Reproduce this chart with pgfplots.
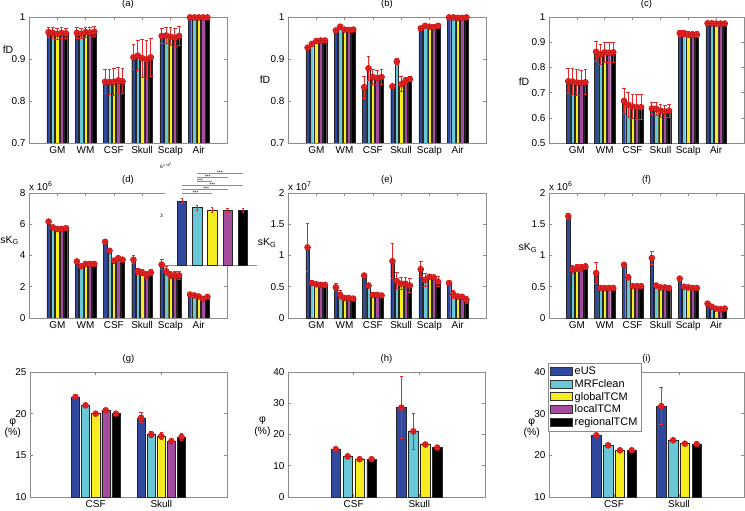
\documentclass[border=0pt]{standalone}
\usepackage{pgfplots}
\pgfplotsset{compat=1.18}
\usepackage{pgfplotstable}
\usepackage{fontspec}
\setmainfont{Liberation Sans}

\definecolor{cA}{RGB}{48,72,158}
\definecolor{cB}{RGB}{104,200,216}
\definecolor{cC}{RGB}{246,236,32}
\definecolor{cD}{RGB}{166,76,158}
\definecolor{cE}{RGB}{0,0,0}
\definecolor{cR}{RGB}{232,40,40}
\definecolor{cRD}{RGB}{195,20,20}
\definecolor{cF}{RGB}{140,140,140}

% ---------------- data ----------------
\pgfplotstableread{
x a b c d e ea eb ec ed ee
1 0.964 0.962 0.960 0.962 0.961 0.012 0.013 0.013 0.013 0.012
2 0.962 0.960 0.964 0.963 0.965 0.012 0.012 0.012 0.012 0.012
3 0.846 0.845 0.846 0.849 0.847 0.028 0.030 0.032 0.030 0.030
4 0.904 0.908 0.902 0.899 0.904 0.030 0.035 0.045 0.045 0.045
5 0.955 0.956 0.953 0.951 0.955 0.018 0.020 0.022 0.022 0.022
6 0.999 0.999 0.999 0.999 0.999 0.002 0.002 0.002 0.002 0.002
}\tA
\pgfplotstableread{
x a b c d e ea eb ec ed ee
1 0.927 0.936 0.943 0.944 0.944 0.003 0.003 0.003 0.003 0.003
2 0.968 0.977 0.970 0.969 0.970 0.003 0.003 0.003 0.003 0.003
3 0.833 0.878 0.857 0.855 0.857 0.026 0.028 0.018 0.018 0.018
4 0.835 0.894 0.840 0.848 0.852 0.005 0.007 0.018 0.008 0.006
5 0.973 0.979 0.977 0.976 0.979 0.004 0.004 0.004 0.004 0.004
6 0.999 0.999 0.998 0.998 0.999 0.001 0.001 0.001 0.001 0.001
}\tB
\pgfplotstableread{
x a b c d e ea eb ec ed ee
1 0.745 0.744 0.740 0.739 0.741 0.050 0.050 0.050 0.050 0.050
2 0.862 0.852 0.860 0.858 0.860 0.040 0.040 0.040 0.040 0.040
3 0.667 0.652 0.645 0.642 0.642 0.048 0.050 0.048 0.050 0.050
4 0.637 0.636 0.628 0.625 0.628 0.025 0.025 0.025 0.025 0.025
5 0.936 0.933 0.932 0.930 0.930 0.012 0.012 0.012 0.012 0.012
6 0.975 0.975 0.974 0.974 0.974 0.005 0.005 0.005 0.005 0.005
}\tC
% sKG, x 10^6
\pgfplotstableread{
x a b c d e ea eb ec ed ee
1 6.17 5.80 5.70 5.70 5.75 0.15 0.12 0.12 0.12 0.12
2 3.62 3.31 3.46 3.46 3.46 0.12 0.10 0.10 0.10 0.10
3 4.88 4.30 3.67 3.83 3.73 0.10 0.10 0.10 0.10 0.10
4 3.73 3.00 2.90 2.75 2.90 0.25 0.20 0.20 0.20 0.20
5 3.42 3.00 2.75 2.75 2.73 0.30 0.30 0.25 0.25 0.25
6 1.50 1.44 1.38 1.23 1.35 0.10 0.10 0.10 0.10 0.10
}\tD
% sKG, x 10^7
\pgfplotstableread{
x a b c d e ea eb ec ed ee
1 1.13 0.56 0.54 0.53 0.53 0.38 0.02 0.02 0.02 0.02
2 0.49 0.37 0.32 0.32 0.31 0.07 0.07 0.02 0.02 0.02
3 0.68 0.52 0.37 0.37 0.36 0.03 0.02 0.02 0.02 0.02
4 0.91 0.59 0.55 0.55 0.52 0.28 0.14 0.10 0.10 0.11
5 0.78 0.61 0.66 0.65 0.58 0.12 0.10 0.02 0.02 0.08
6 0.56 0.38 0.345 0.34 0.29 0.02 0.06 0.03 0.03 0.05
}\tE
% sKG, x 10^6
\pgfplotstableread{
x a b c d e ea eb ec ed ee
1 1.63 0.78 0.80 0.80 0.82 0.05 0.06 0.05 0.05 0.05
2 0.72 0.48 0.48 0.48 0.48 0.17 0.02 0.02 0.02 0.02
3 0.85 0.65 0.51 0.51 0.51 0.03 0.04 0.02 0.02 0.02
4 0.96 0.52 0.49 0.49 0.48 0.10 0.03 0.02 0.02 0.02
5 0.63 0.50 0.49 0.48 0.48 0.02 0.02 0.02 0.02 0.02
6 0.23 0.18 0.15 0.14 0.15 0.01 0.02 0.01 0.01 0.01
}\tF
\pgfplotstableread{
x a b c d e ea eb ec ed ee
1 22.0 21.0 20.0 20.4 20.0 0.15 0.15 0.15 0.15 0.15
2 19.5 17.5 17.3 16.7 17.2 0.60 0.40 0.40 0.20 0.40
}\tG
\pgfplotstableread{
x a b c e ea eb ec ee
1 15.3 13.0 12.1 12.1 0.4 0.4 0.4 0.4
2 28.6 21.0 16.8 15.8 10.0 5.7 0.4 0.4
}\tH
\pgfplotstableread{
x a b c e ea eb ec ee
1 24.8 22.4 21.2 21.2 0.2 0.2 0.2 0.2
2 31.8 23.6 22.8 22.7 4.4 0.3 0.2 0.2
}\tI

\pgfplotsset{
  panel/.style={scale only axis, width=198bp, height=125bp,
    axis line style={cF, line width=0.6bp},
    every tick/.style={cF, line width=0.6bp}, major tick length=3bp,
    tick label style={font=\fontsize{10}{12}\selectfont},
    /pgf/number format/assume math mode=true,
    ylabel style={rotate=-90, font=\fontsize{10.5}{12}\selectfont, align=center, anchor=center},
    title style={font=\fontsize{9.5}{11}\selectfont, inner sep=2.5bp},
    scaled ticks=false, anchor=north west, clip mode=individual},
  six/.style={xmin=0, xmax=7, xtick={1,...,6}, xticklabels={GM,WM,CSF,Skull,Scalp,Air}},
  two/.style={xmin=0, xmax=3, xtick={1,2}, xticklabels={CSF,Skull}},
  mybar/.style={ybar, draw=black!85, line width=0.35bp, forget plot},
  err/.style={forget plot, only marks, mark=oplus*, mark size=3bp,
    mark options={fill=cR, draw=cRD, line width=0.5bp},
    /pgfplots/error bars/y dir=both, /pgfplots/error bars/y explicit,
    /pgfplots/error bars/error bar style={cR, line width=1bp},
    /pgfplots/error bars/error mark options={rotate=90, cR, mark size=1.8bp, line width=1bp}},
}

\newcommand\five[1]{%
  \addplot[mybar, fill=cA, bar width=0.123, bar shift=-0.3077] table[x=x,y=a]{#1};
  \addplot[mybar, fill=cB, bar width=0.123, bar shift=-0.1538] table[x=x,y=b]{#1};
  \addplot[mybar, fill=cC, bar width=0.123, bar shift=0] table[x=x,y=c]{#1};
  \addplot[mybar, fill=cD, bar width=0.123, bar shift=0.1538] table[x=x,y=d]{#1};
  \addplot[mybar, fill=cE, bar width=0.123, bar shift=0.3077] table[x=x,y=e]{#1};
  \addplot[err] table[x expr=\thisrow{x}-0.3077, y=a, y error=ea]{#1};
  \addplot[err] table[x expr=\thisrow{x}-0.1538, y=b, y error=eb]{#1};
  \addplot[err] table[x expr=\thisrow{x}, y=c, y error=ec]{#1};
  \addplot[err] table[x expr=\thisrow{x}+0.1538, y=d, y error=ed]{#1};
  \addplot[err] table[x expr=\thisrow{x}+0.3077, y=e, y error=ee]{#1};
}
\newcommand\four[1]{%
  \addplot[mybar, fill=cA, bar width=0.145, bar shift=-0.2727] table[x=x,y=a]{#1};
  \addplot[mybar, fill=cB, bar width=0.145, bar shift=-0.0909] table[x=x,y=b]{#1};
  \addplot[mybar, fill=cC, bar width=0.145, bar shift=0.0909] table[x=x,y=c]{#1};
  \addplot[mybar, fill=cE, bar width=0.145, bar shift=0.2727] table[x=x,y=e]{#1};
  \addplot[err] table[x expr=\thisrow{x}-0.2727, y=a, y error=ea]{#1};
  \addplot[err] table[x expr=\thisrow{x}-0.0909, y=b, y error=eb]{#1};
  \addplot[err] table[x expr=\thisrow{x}+0.0909, y=c, y error=ec]{#1};
  \addplot[err] table[x expr=\thisrow{x}+0.2727, y=e, y error=ee]{#1};
}
\newcommand\mult[1]{\node[anchor=south west, inner sep=0pt, yshift=2.5bp, font=\fontsize{10}{12}\selectfont] at (rel axis cs:0,1) {x 10\textsuperscript{#1}};}
\newcommand\stars[2]{\node[font=\fontsize{5}{5}\selectfont, inner sep=0pt, anchor=south] at (axis cs:#1,#2) {***};}

\begin{document}
\begin{tikzpicture}
\path[use as bounding box] (0,0) rectangle (745bp,-511bp);

% ---------------- row 1 ----------------
\begin{axis}[panel, six, height=126bp, at={(29bp,-17bp)}, ymin=0.7, ymax=1, ytick={0.7,0.8,0.9,1},
  title={(a)}, ylabel={fD}, ylabel style={at={(axis description cs:-0.106,0.74)}}]
\five{\tA}
\end{axis}
\begin{axis}[panel, six, height=126bp, at={(288bp,-17bp)}, ymin=0.7, ymax=1, ytick={0.7,0.8,0.9,1},
  title={(b)}, ylabel={fD}, ylabel style={at={(axis description cs:-0.116,0.5)}}]
\five{\tB}
\end{axis}
\begin{axis}[panel, six, height=126bp, width=195bp, at={(549bp,-17bp)}, ymin=0.5, ymax=1, ytick={0.5,0.6,0.7,0.8,0.9,1},
  title={(c)}, ylabel={fD}, ylabel style={at={(axis description cs:-0.128,0.49)}}]
\five{\tC}
\end{axis}

% ---------------- row 2 ----------------
\begin{axis}[panel, six, at={(29bp,-193bp)}, ymin=0, ymax=8, ytick={0,2,4,6,8},
  title={(d)}, ylabel={sK\textsubscript{G}}, ylabel style={at={(axis description cs:-0.098,0.62)}}]
\five{\tD}
\mult{6}
\end{axis}
% inset
\begin{axis}[scale only axis, width=91.5bp, height=98bp, at={(165bp,-265bp)}, anchor=south west,
  xmin=-0.1, xmax=5.9, ymin=0, ymax=6, axis background/.style={fill=white},
  axis x line*=bottom, axis y line*=left, x axis line style={cF, line width=0.4bp, -},
  y axis line style={draw=none}, xtick=\empty, ytick={3,6}, major tick length=0pt,
  tick label style={font=\fontsize{5}{6}\selectfont}, yticklabel style={xshift=1.5bp},
  /pgf/number format/assume math mode=true, clip=false]
\addplot[ybar, bar width=0.61, bar shift=0, fill=cA, draw=black!85, line width=0.3bp] coordinates {(1,3.94)};
\addplot[ybar, bar width=0.61, bar shift=0, fill=cB, draw=black!85, line width=0.3bp] coordinates {(2,3.52)};
\addplot[ybar, bar width=0.61, bar shift=0, fill=cC, draw=black!85, line width=0.3bp] coordinates {(3,3.37)};
\addplot[ybar, bar width=0.61, bar shift=0, fill=cD, draw=black!85, line width=0.3bp] coordinates {(4,3.35)};
\addplot[ybar, bar width=0.61, bar shift=0, fill=cE, draw=black!85, line width=0.3bp] coordinates {(5,3.35)};
\addplot[draw=none, mark=none, error bars/.cd, y dir=both, y explicit,
  error bar style={cR, line width=0.5bp}, error mark options={rotate=90, cR, mark size=1.2bp, line width=0.5bp}]
  coordinates {(1,3.94) +- (0,0.17) (2,3.52) +- (0,0.15) (3,3.37) +- (0,0.15) (4,3.35) +- (0,0.12) (5,3.35) +- (0,0.12)};
\draw[cF, line width=0.35bp] (axis cs:1,4.42) -- (axis cs:3,4.42);
\draw[cF, line width=0.35bp] (axis cs:1,4.66) -- (axis cs:4,4.66);
\draw[cF, line width=0.35bp] (axis cs:1,4.90) -- (axis cs:5,4.90);
\draw[cF, line width=0.35bp] (axis cs:2,5.15) -- (axis cs:3,5.15);
\draw[cF, line width=0.35bp] (axis cs:2,5.40) -- (axis cs:4,5.40);
\draw[cF, line width=0.35bp] (axis cs:2,5.64) -- (axis cs:5,5.64);
\stars{1.9}{4.30}
\stars{2.6}{4.54}
\stars{3.0}{4.78}
\stars{2.2}{5.03}
\stars{2.7}{5.28}
\stars{3.5}{5.52}
\node[anchor=south west, inner sep=0pt, font=\fontsize{3.5}{4}\selectfont] at (rel axis cs:-0.02,1.0) {x 10\textsuperscript{6}};
\end{axis}

\begin{axis}[panel, six, at={(288bp,-193bp)}, ymin=0, ymax=2, ytick={0,0.5,1,1.5,2},
  title={(e)}, ylabel={sK\textsubscript{G}}, ylabel style={at={(axis description cs:-0.106,0.6)}}]
\five{\tE}
\mult{7}
\end{axis}
\begin{axis}[panel, six, width=195bp, at={(549bp,-193bp)}, ymin=0, ymax=2, ytick={0,0.5,1,1.5,2},
  title={(f)}, ylabel={sK\textsubscript{G}}, ylabel style={at={(axis description cs:-0.108,0.56)}}]
\five{\tF}
\mult{6}
\end{axis}

% ---------------- row 3 ----------------
\begin{axis}[panel, two, width=197bp, at={(30bp,-372bp)}, ymin=10, ymax=25, ytick={10,15,20,25},
  title={(g)}, ylabel={φ\\(\%)}, ylabel style={at={(axis description cs:-0.088,0.55)}}]
\five{\tG}
\end{axis}
\begin{axis}[panel, two, width=197bp, at={(288bp,-372bp)}, ymin=0, ymax=40, ytick={0,10,20,30,40},
  title={(h)}, ylabel={φ\\(\%)}, ylabel style={at={(axis description cs:-0.13,0.56)}}]
\four{\tH}
\end{axis}
\begin{axis}[panel, two, width=195bp, at={(549bp,-372bp)}, ymin=10, ymax=40, ytick={10,20,30,40},
  title={(i)}, ylabel={φ\\(\%)}, ylabel style={at={(axis description cs:-0.088,0.55)}},
  legend cell align=left,
  legend style={at={(-0.005,1.072)}, anchor=north west, draw=cF, line width=0.6bp,
    font=\fontsize{11}{12.5}\selectfont, inner sep=2bp, row sep=-0.8bp},
  legend image code/.code={\draw[#1, draw=black!80, line width=0.4bp] (0bp,-3.5bp) rectangle (22bp,4.5bp);}]
\four{\tI}
\addlegendimage{fill=cA}
\addlegendimage{fill=cB}
\addlegendimage{fill=cC}
\addlegendimage{fill=cD}
\addlegendimage{fill=cE}
\legend{eUS,MRFclean,globalTCM,localTCM,regionalTCM}
\end{axis}
\end{tikzpicture}
\end{document}
